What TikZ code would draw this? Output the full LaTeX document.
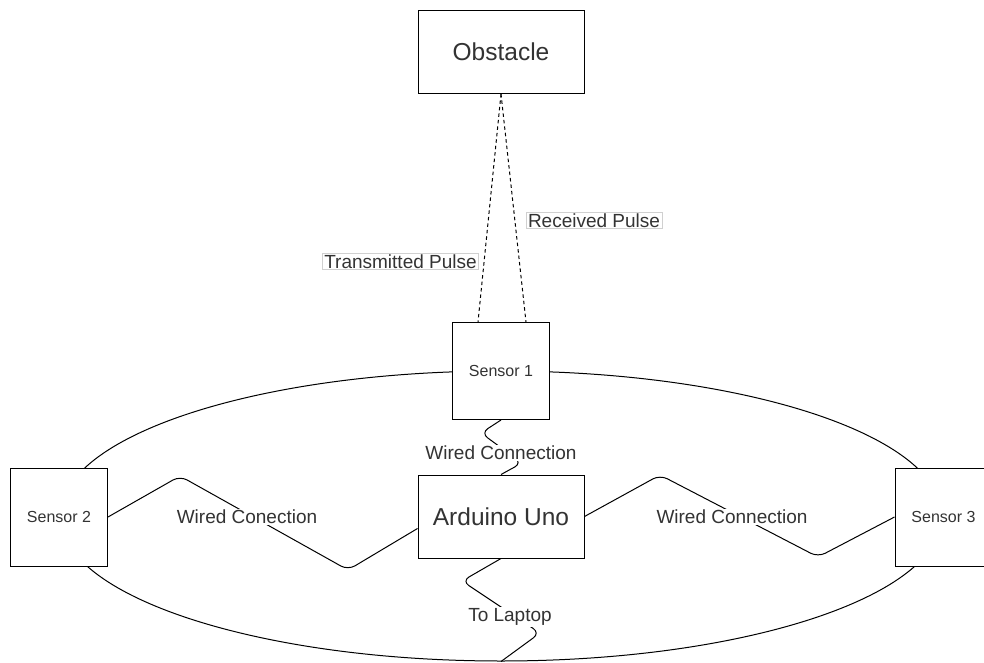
\documentclass[tikz,border=0pt]{standalone}
\usepackage{fontspec}
\setmainfont{Liberation Sans}
\usepackage{xcolor}
\usepackage{tikz}
\usetikzlibrary{shapes.geometric}

\definecolor{txtgray}{HTML}{333333}
\definecolor{lblborder}{HTML}{D0D0D0}

\tikzset{
  blockbox/.style={draw, line width=1pt, fill=white, text=txtgray,
    minimum width=166pt, minimum height=83pt, font=\fontsize{24.5}{28}\selectfont},
  sensorbox/.style={draw, line width=1pt, fill=white, text=txtgray,
    minimum width=97pt, minimum height=97pt, font=\fontsize{16}{19}\selectfont},
  pulse/.style={line width=1pt, dash pattern=on 3.5pt off 3pt},
  wire/.style={line width=1pt, rounded corners=8pt},
  wirelbl/.style={fill=white, text=txtgray, inner sep=1pt,
    font=\fontsize{19}{22}\selectfont},
  pulselbl/.style={draw=lblborder, line width=0.8pt, fill=white, text=txtgray,
    inner xsep=2pt, inner ysep=1pt, font=\fontsize{19}{22}\selectfont}
}

\begin{document}
\begin{tikzpicture}[x=1pt, y=-1pt]
  \clip (0,0) rectangle (984,663);

  % Ring round the sensors
  \node[ellipse, draw, line width=1pt, minimum width=882pt, minimum height=290pt,
    inner sep=0pt] (ring) at (501,516) {};

  % Obstacle and the sensors
  \node[blockbox] (obst) at (501,52) {Obstacle};
  \node[sensorbox] (s1) at (501,371) {Sensor 1};
  \node[sensorbox, minimum height=98pt] (s2) at (59,517) {Sensor 2};
  \node[sensorbox, minimum height=98pt] (s3) at (943.5,517) {Sensor 3};
  \node[blockbox] (ard) at (501,516.5) {Arduino Uno};

  % Pulses between sensor 1 and the obstacle
  \draw[pulse] (obst.south) -- ([xshift=-23pt]s1.north);
  \draw[pulse] (obst.south) -- ([xshift=25pt]s1.north);
  \node[pulselbl] (tx) at (400.5,261.5) {Transmitted Pulse};
  \node[pulselbl] (rx) at (594,220.5) {Received Pulse};

  % Wired connections to the Arduino
  \draw[wire] (s1.south) -- (481,433) -- (522,463) -- (ard.north);
  \node[wirelbl] (w1) at (501,453) {Wired Connection};

  \draw[wire] (s2.east) -- (180,476) -- (348,570) -- ([yshift=-12pt]ard.west);
  \node[wirelbl] (w2) at (247,517) {Wired Conection};

  \draw[wire] (ard.east) -- (660,475) -- (818,557) -- (s3.west);
  \node[wirelbl] (w3) at (732,517) {Wired Connection};

  % Output to the laptop
  \draw[wire] (ard.south) -- (462,581) -- (540,633) -- (ring.south);
  \node[wirelbl] (lap) at (510,617) {To Laptop};
\end{tikzpicture}
\end{document}
